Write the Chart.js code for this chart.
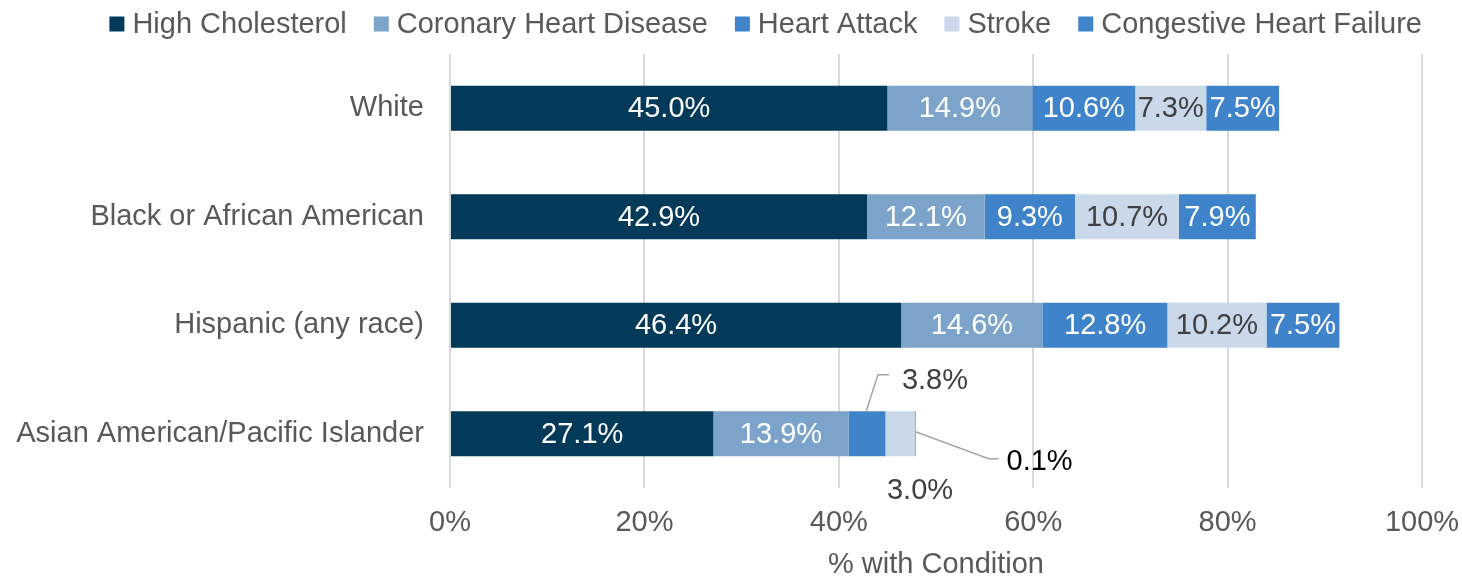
<!DOCTYPE html>
<html>
<head>
<meta charset="utf-8">
<script src="https://cdn.jsdelivr.net/npm/chart.js@4/dist/chart.umd.min.js"></script>
<style>
  html, body { margin: 0; padding: 0; background: #fff; }
  #wrap { width: 1462px; height: 576px; position: relative; }
</style>
</head>
<body>
<div id="wrap"><canvas id="chart"></canvas></div>
<script>
// categories and series (percent with condition)
const groups = ['White', 'Black or African American', 'Hispanic (any race)', 'Asian American/Pacific Islander'];
const highCholesterol = [45.0, 42.9, 46.4, 27.1];
const coronaryHeartDisease = [14.9, 12.1, 14.6, 13.9];
const heartAttack = [10.6, 9.3, 12.8, 3.8];
const stroke = [7.3, 10.7, 10.2, 3.0];
const congestiveHeartFailure = [7.5, 7.9, 7.5, 0.1];
const xTicks = [0, 20, 40, 60, 80, 100];

const FONT = "'Liberation Sans', Arial, sans-serif";
const SIZE = 29;
const grey = '#595959';

// small segments on the last row get labels outside the bar, with leader lines
// key: datasetIndex -> offset of label from the anchor point, optional leader path
const callouts = {
  2: { dx: 68, dy: -53, leader: [[-1, -22], [11, -59], [22, -59]], color: '#404040' },
  3: { dx: 20, dy: 57, color: '#404040' },
  4: { dx: 124, dy: 28, leader: [[0, -2], [73, 25], [83, 25]], color: '#000000', atEnd: true }
};
const calloutRow = 3;

const labelPlugin = {
  id: 'barLabels',
  afterDatasetsDraw(chart) {
    const ctx = chart.ctx;
    ctx.save();
    ctx.font = SIZE + 'px ' + FONT;
    ctx.textAlign = 'center';
    ctx.textBaseline = 'middle';
    chart.data.datasets.forEach((ds, di) => {
      const meta = chart.getDatasetMeta(di);
      meta.data.forEach((bar, i) => {
        const text = ds.data[i].toFixed(1) + '%';
        const cx = (bar.x + bar.base) / 2;
        if (i === calloutRow && callouts[di]) {
          const c = callouts[di];
          const ax = c.atEnd ? bar.x : cx;
          if (c.leader) {
            ctx.strokeStyle = '#a6a6a6';
            ctx.lineWidth = 1.5;
            ctx.beginPath();
            c.leader.forEach((p, k) => {
              if (k === 0) ctx.moveTo(ax + p[0], bar.y + p[1]);
              else ctx.lineTo(ax + p[0], bar.y + p[1]);
            });
            ctx.stroke();
          }
          ctx.fillStyle = c.color;
          ctx.fillText(text, ax + c.dx, bar.y + c.dy);
          return;
        }
        ctx.fillStyle = ds.labelColor;
        ctx.fillText(text, cx, bar.y + 1);
      });
    });
    ctx.restore();
  }
};

// legend row drawn across the top, right edge lined up with the plot
const legendPlugin = {
  id: 'topLegend',
  afterDraw(chart) {
    const ctx = chart.ctx;
    const box = 15, gap = 8, spacing = 27, y = 24;
    ctx.save();
    ctx.font = SIZE + 'px ' + FONT;
    ctx.textBaseline = 'middle';
    ctx.textAlign = 'left';
    const items = chart.data.datasets.map(ds => ({ text: ds.label, color: ds.backgroundColor, w: ctx.measureText(ds.label).width }));
    const total = items.reduce((s, it) => s + box + gap + it.w, 0) + spacing * (items.length - 1);
    let x = chart.chartArea.right - total;
    items.forEach(it => {
      ctx.fillStyle = it.color;
      ctx.fillRect(x, y - box / 2, box, box);
      x += box + gap;
      ctx.fillStyle = grey;
      ctx.fillText(it.text, x, y + 1);
      x += it.w + spacing;
    });
    ctx.restore();
  }
};

function series(label, data, color, labelColor) {
  return {
    label, data,
    backgroundColor: color,
    borderWidth: 0,
    labelColor,
    barPercentage: 0.83,
    categoryPercentage: 0.5
  };
}

new Chart(document.getElementById('chart'), {
  type: 'bar',
  data: {
    labels: groups,
    datasets: [
      series('High Cholesterol', highCholesterol, '#033A5A', '#ffffff'),
      series('Coronary Heart Disease', coronaryHeartDisease, '#7CA4CB', '#ffffff'),
      series('Heart Attack', heartAttack, '#3F83CA', '#ffffff'),
      series('Stroke', stroke, '#C9D9EA', '#404040'),
      series('Congestive Heart Failure', congestiveHeartFailure, '#3F83CA', '#ffffff')
    ]
  },
  options: {
    indexAxis: 'y',
    responsive: true,
    maintainAspectRatio: false,
    animation: false,
    layout: { padding: { left: 0, right: 0, top: 54, bottom: -6 } },
    plugins: {
      legend: { display: false },
      tooltip: { enabled: false }
    },
    scales: {
      x: {
        stacked: true,
        min: 0,
        max: 100,
        afterBuildTicks: axis => { axis.ticks = xTicks.map(v => ({ value: v })); },
        afterFit: scale => { scale.height = 94; scale.paddingRight = 40; scale.paddingLeft = 0; },
        grid: { color: '#d9d9d9', lineWidth: 2, drawTicks: false },
        border: { display: false },
        ticks: {
          color: grey,
          font: { family: FONT, size: SIZE },
          padding: 18,
          callback: v => v + '%'
        },
        title: {
          display: true,
          text: '% with Condition',
          color: grey,
          font: { family: FONT, size: SIZE },
          padding: { top: 4, bottom: 0 }
        }
      },
      y: {
        stacked: true,
        afterFit: scale => { scale.width = 450; },
        grid: { display: false, drawTicks: false },
        border: { display: false },
        ticks: {
          color: grey,
          font: { family: FONT, size: SIZE },
          padding: 26
        }
      }
    }
  },
  plugins: [labelPlugin, legendPlugin]
});
</script>
</body>
</html>
